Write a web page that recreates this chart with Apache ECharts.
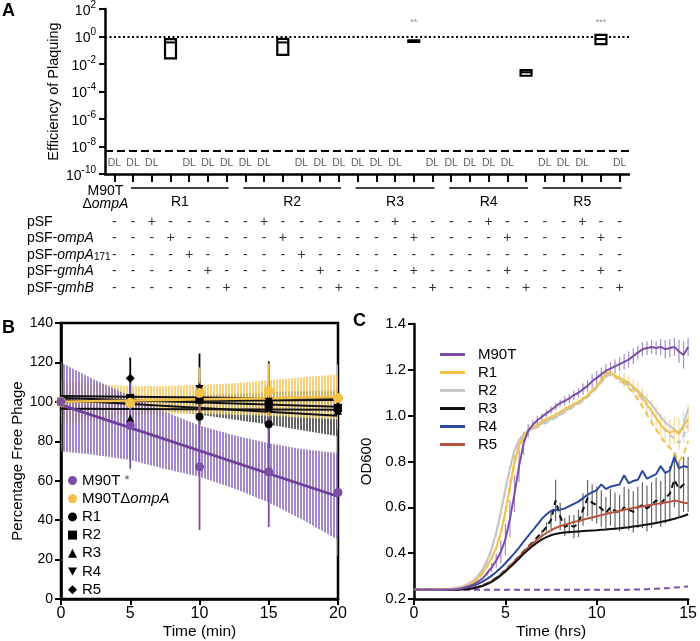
<!DOCTYPE html>
<html>
<head>
<meta charset="utf-8">
<script src="https://cdn.jsdelivr.net/npm/echarts@6/dist/echarts.min.js"></script>
<style>
  html, body { margin: 0; padding: 0; background: #fff; }
  #main { width: 700px; height: 641px; }
</style>
</head>
<body>
<div id="main"></div>
<script>
const FONT = 'Liberation Sans, Arial, sans-serif';

// ---------- A: efficiency of plaquing ----------
const COLS = ['M90TΔompA',
  'R1', 'R1 pSF', 'R1 ompA', 'R1 ompA171', 'R1 gmhA', 'R1 gmhB',
  'R2', 'R2 pSF', 'R2 ompA', 'R2 ompA171', 'R2 gmhA', 'R2 gmhB',
  'R3', 'R3 pSF', 'R3 ompA', 'R3 gmhA', 'R3 gmhB',
  'R4', 'R4 pSF', 'R4 ompA', 'R4 gmhA', 'R4 gmhB',
  'R5', 'R5 pSF', 'R5 ompA', 'R5 gmhA', 'R5 gmhB'];
// null = below detection limit (DL)
const EOP_MIN  = [null, null,null,0.026,null,null,null, null,null,0.046,null,null,null, null,null,null,0.45,null, null,null,null,null,0.0014, null,null,null,0.28,null];
const EOP_MEAN = [null, null,null,0.37,null,null,null,  null,null,0.37,null,null,null,  null,null,null,0.49,null, null,null,null,null,0.0025, null,null,null,0.65,null];
const EOP_MAX  = [null, null,null,0.65,null,null,null,  null,null,0.68,null,null,null,  null,null,null,0.52,null, null,null,null,null,0.0036, null,null,null,1.3,null];
const DETECTION_LIMIT = 5e-9;
const DL_LABEL_Y = 6e-10;
const STAR_COLS = [16, 26];
const STAR_TEXT = ['**', '***'];
const GROUP_NAMES = ['R1', 'R2', 'R3', 'R4', 'R5'];
const GROUP_FIRST = [1, 7, 13, 18, 23];
const GROUP_LAST = [6, 12, 17, 22, 27];

const PLASMIDS = ['pSF', 'pSF-ompA', 'pSF-ompA171', 'pSF-gmhA', 'pSF-gmhB'];
const SIGN_PSF      = '--+-----+------+----+----+---';
const SIGN_OMPA     = '---+-----+------+----+----+--';
const SIGN_OMPA171  = '----+-----+-----------------';
const SIGN_GMHA     = '-----+-----+----+----+----+-';
const SIGN_GMHB     = '------+-----+----+----+----+';

// ---------- B: phage adsorption ----------
const TIME_B = [0, 5, 10, 15, 20];
const M90T_B = [100, 88, 67, 64.5, 54];
const M90T_B_SD = [0, 22, 32, 28, 32];
const DOMPA_B = [100, 99.5, 104.5, 105.5, 102];
const DOMPA_B_SD = [0, 3, 13, 14, 17];
const R1_B = [100, 100, 92.5, 88.6, 96];
const R1_B_SD = [0, 3, 2, 3, 3];
const R2_B = [100, 102, 101, 98.5, 97];
const R2_B_SD = [0, 2, 2, 22, 38];
const R3_B = [100, 91.5, 107.5, 97, 95.5];
const R3_B_SD = [0, 2, 3, 3, 3];
const R4_B = [100, 100, 106.5, 100, 100];
const R4_B_SD = [0, 2, 18, 3, 3];
const R5_B = [100, 112, 101, 99, 95.5];
const R5_B_SD = [0, 10.5, 3, 3, 3];
// regression line values at t = 0 and t = 20
const FIT_T = [0, 20];
const FIT_M90T = [98.5, 52];
const FIT_DOMPA = [100, 102.5];
const FIT_R1 = [101, 93];
const FIT_R2 = [103, 101.5];
const FIT_R3 = [96.5, 96];
const FIT_R4 = [100, 101];
const FIT_R5 = [102, 97.5];
// confidence bands
const BAND_T = [0, 2.5, 5, 7.5, 10, 12.5, 15, 17.5, 20];
const M90T_BAND_HI = [120, 111, 103, 95, 88, 83, 79, 76, 74];
const M90T_BAND_LO = [75, 73, 70.5, 66, 62, 56, 49, 40, 30];
const DOMPA_BAND_HI = [111, 109, 108, 108, 108.5, 109.5, 111, 112.5, 114];
const DOMPA_BAND_LO = [89, 91, 93, 94, 94, 93.5, 93, 92, 91];
const R_BAND_HI = [104, 103.5, 103, 103, 103.5, 104, 105, 105.5, 106];
const R_BAND_LO = [96, 97, 97, 95.5, 93.5, 91, 88.5, 85.5, 82.5];

// ---------- C: growth curves ----------
const TIME_C = [0,0.25,0.5,0.75, 1,1.25,1.5,1.75, 2,2.25,2.5,2.75, 3,3.25,3.5,3.75, 4,4.25,4.5,4.75,
  5,5.25,5.5,5.75, 6,6.25,6.5,6.75, 7,7.25,7.5,7.75, 8,8.25,8.5,8.75, 9,9.25,9.5,9.75,
  10,10.25,10.5,10.75, 11,11.25,11.5,11.75, 12,12.25,12.5,12.75, 13,13.25,13.5,13.75, 14,14.25,14.5,14.75, 15];
const M90T_C = [0.240,0.240,0.240,0.240, 0.240,0.240,0.240,0.241, 0.242,0.243,0.245,0.250, 0.256,0.264,0.275,0.290,
  0.312,0.338,0.368,0.405, 0.460,0.550,0.660,0.780, 0.880,0.935,0.960,0.980, 0.995,1.010,1.025,1.040,
  1.055,1.065,1.075,1.090, 1.100,1.115,1.130,1.150, 1.165,1.180,1.195,1.205, 1.215,1.225,1.235,1.245,
  1.260,1.275,1.290,1.295, 1.300,1.295,1.300,1.290, 1.295,1.300,1.280,1.265, 1.300];
const M90T_C_ERR = [0,0,0,0, 0,0,0,0, 0,0,0,0, 0,0,0,0,
  0.01,0.02,0.03,0.05, 0.07,0.08,0.08,0.07, 0.05,0.03,0.02,0.02, 0.015,0.015,0.015,0.015,
  0.015,0.02,0.02,0.02, 0.02,0.025,0.025,0.03, 0.03,0.03,0.03,0.03, 0.03,0.03,0.035,0.035,
  0.035,0.03,0.03,0.03, 0.03,0.03,0.035,0.04, 0.04,0.04,0.05,0.06, 0.04];
const M90T_C_DASH = [0.240,0.240,0.240,0.240, 0.240,0.240,0.240,0.240, 0.240,0.240,0.240,0.240, 0.240,0.240,0.240,0.240,
  0.240,0.240,0.240,0.240, 0.240,0.240,0.240,0.240, 0.240,0.240,0.240,0.240, 0.240,0.240,0.240,0.240,
  0.240,0.240,0.240,0.240, 0.240,0.240,0.240,0.240, 0.240,0.240,0.240,0.240, 0.240,0.240,0.240,0.240,
  0.241,0.241,0.242,0.243, 0.244,0.245,0.246,0.247, 0.248,0.250,0.251,0.253, 0.255];
const R1_C = [0.240,0.240,0.240,0.240, 0.240,0.241,0.241,0.242, 0.243,0.245,0.248,0.253, 0.260,0.272,0.290,0.315,
  0.345,0.380,0.425,0.490, 0.580,0.690,0.800,0.870, 0.910,0.935,0.950,0.960, 0.975,0.985,0.995,1.005,
  1.015,1.030,1.040,1.050, 1.060,1.075,1.090,1.110, 1.130,1.155,1.185,1.190, 1.175,1.165,1.155,1.145,
  1.125,1.105,1.080,1.050, 1.020,0.990,0.960,0.940, 0.925,0.935,0.920,0.950, 0.985];
const R1_C_ERR = [0,0,0,0, 0,0,0,0, 0,0,0,0, 0,0,0,0,
  0,0,0,0, 0.02,0.03,0.03,0.02, 0.01,0.01,0.01,0.01, 0.01,0.01,0.01,0.01,
  0.01,0.01,0.01,0.01, 0.01,0.01,0.01,0.01, 0.015,0.015,0.02,0.02, 0.02,0.025,0.03,0.03,
  0.035,0.04,0.04,0.045, 0.05,0.05,0.05,0.055, 0.06,0.06,0.07,0.07, 0.06];
const R1_C_DASH = [0.240,0.240,0.240,0.240, 0.240,0.240,0.241,0.242, 0.243,0.245,0.247,0.252, 0.258,0.270,0.287,0.312,
  0.342,0.378,0.422,0.485, 0.575,0.685,0.795,0.865, 0.905,0.930,0.945,0.955, 0.970,0.980,0.990,1.000,
  1.010,1.020,1.030,1.045, 1.055,1.070,1.085,1.105, 1.125,1.150,1.180,1.185, 1.170,1.155,1.140,1.120,
  1.100,1.070,1.040,1.005, 0.970,0.940,0.910,0.880, 0.860,0.840,0.800,0.830, 0.890];
const R2_C = [0.240,0.240,0.240,0.240, 0.240,0.241,0.242,0.243, 0.245,0.248,0.252,0.258, 0.268,0.282,0.302,0.330,
  0.368,0.420,0.490,0.580, 0.680,0.770,0.850,0.895, 0.920,0.935,0.945,0.955, 0.965,0.975,0.985,0.995,
  1.005,1.020,1.030,1.045, 1.055,1.070,1.085,1.105, 1.125,1.150,1.175,1.185, 1.175,1.165,1.150,1.140,
  1.125,1.110,1.090,1.070, 1.050,1.020,0.995,0.970, 0.955,0.940,0.925,0.960, 1.030];
const R2_C_DASH = [0.240,0.240,0.240,0.240, 0.240,0.241,0.242,0.243, 0.245,0.247,0.251,0.257, 0.266,0.280,0.300,0.327,
  0.365,0.415,0.485,0.575, 0.675,0.765,0.845,0.890, 0.915,0.930,0.940,0.950, 0.960,0.970,0.980,0.990,
  1.000,1.015,1.025,1.040, 1.050,1.065,1.080,1.100, 1.120,1.145,1.170,1.180, 1.170,1.160,1.145,1.130,
  1.115,1.095,1.070,1.045, 1.020,0.990,0.960,0.935, 0.915,0.900,0.880,0.910, 0.960];
const R3_C = [0.240,0.240,0.240,0.240, 0.240,0.240,0.240,0.240, 0.240,0.241,0.241,0.242, 0.244,0.247,0.251,0.257,
  0.265,0.275,0.288,0.303, 0.320,0.338,0.357,0.377, 0.397,0.415,0.432,0.447, 0.460,0.470,0.478,0.484,
  0.488,0.490,0.492,0.493, 0.495,0.497,0.498,0.499, 0.500,0.502,0.503,0.505, 0.507,0.509,0.511,0.513,
  0.516,0.519,0.522,0.525, 0.528,0.532,0.536,0.540, 0.545,0.550,0.556,0.562, 0.570];
const R3_C_DASH = [0.240,0.240,0.240,0.240, 0.240,0.240,0.240,0.240, 0.240,0.241,0.242,0.243, 0.245,0.248,0.253,0.260,
  0.268,0.278,0.292,0.308, 0.326,0.345,0.365,0.386, 0.408,0.428,0.448,0.470, 0.490,0.515,0.545,0.630,
  0.560,0.515,0.525,0.515, 0.530,0.590,0.640,0.620, 0.610,0.595,0.575,0.600, 0.585,0.575,0.600,0.590,
  0.580,0.600,0.610,0.595, 0.610,0.630,0.615,0.640, 0.660,0.720,0.680,0.700, 0.700];
const R3_C_DASH_ERR = [0,0,0,0, 0,0,0,0, 0,0,0,0, 0,0,0,0,
  0,0,0,0, 0,0,0,0, 0,0,0,0, 0.01,0.02,0.04,0.09,
  0.06,0.04,0.04,0.05, 0.06,0.07,0.08,0.08, 0.08,0.08,0.07,0.08, 0.08,0.08,0.09,0.09,
  0.09,0.09,0.10,0.10, 0.10,0.10,0.10,0.11, 0.12,0.12,0.12,0.12, 0.12];
const R4_C = [0.240,0.240,0.240,0.240, 0.240,0.240,0.240,0.241, 0.242,0.243,0.245,0.248, 0.252,0.258,0.266,0.276,
  0.288,0.302,0.318,0.336, 0.356,0.378,0.400,0.424, 0.450,0.475,0.500,0.525, 0.550,0.570,0.585,0.588,
  0.590,0.595,0.605,0.615, 0.625,0.640,0.655,0.665, 0.675,0.700,0.680,0.690, 0.695,0.700,0.740,0.705,
  0.715,0.720,0.760,0.725, 0.735,0.745,0.780,0.750, 0.760,0.820,0.770,0.780, 0.775];
const R5_C = [0.240,0.240,0.240,0.240, 0.240,0.240,0.240,0.240, 0.240,0.241,0.241,0.242, 0.244,0.247,0.252,0.258,
  0.266,0.277,0.290,0.306, 0.324,0.344,0.364,0.385, 0.405,0.425,0.443,0.460, 0.475,0.488,0.500,0.510,
  0.518,0.524,0.530,0.536, 0.541,0.546,0.551,0.556, 0.561,0.566,0.571,0.576, 0.580,0.585,0.589,0.593,
  0.597,0.601,0.604,0.608, 0.611,0.614,0.618,0.621, 0.624,0.630,0.626,0.620, 0.618];

const PURPLE = '#7a4fa5', YELLOW = '#f3c24a', GRAY = '#c6c6c6', BLACK = '#111', BLUE = '#2d4a9c', RED = '#b5533f';

// vertical stripe fill like the hatched bands
function stripes(color) {
  const c = document.createElement('canvas');
  c.width = 3; c.height = 4;
  const g = c.getContext('2d');
  g.fillStyle = color;
  g.fillRect(0, 0, 2, 4);
  return { image: c, repeat: 'repeat' };
}

const chart = echarts.init(document.getElementById('main'));

const log10 = v => Math.log10(v);

// A series data
const boxData = [];
const dlData = [];
COLS.forEach((c, i) => {
  if (EOP_MEAN[i] == null) dlData.push([i, log10(DL_LABEL_Y)]);
  else boxData.push([i, log10(EOP_MIN[i]), log10(EOP_MEAN[i]), log10(EOP_MAX[i])]);
});
const starData = STAR_COLS.map((c, k) => ({ value: [c, 1], label: { formatter: STAR_TEXT[k] } }));

const signRows = [SIGN_PSF, SIGN_OMPA, SIGN_OMPA171, SIGN_GMHA, SIGN_GMHB];
const tableData = [];
signRows.forEach((row, j) => {
  for (let i = 0; i < COLS.length; i++) {
    tableData.push({ value: [i, j], label: { formatter: row[i] } });
  }
});

const PLASMID_RICH = {
  'pSF': 'pSF',
  'pSF-ompA': 'pSF-{i|ompA}',
  'pSF-ompA171': 'pSF-{i|ompA}{sm|171}',
  'pSF-gmhA': 'pSF-{i|gmhA}',
  'pSF-gmhB': 'pSF-{i|gmhB}'
};

// B helpers
function bandSeries(hi, lo, color, z) {
  return {
    type: 'custom', xAxisIndex: 2, yAxisIndex: 2, z: z, silent: true, clip: true,
    data: [[0, 0]],
    renderItem: function (params, api) {
      const pts = [];
      BAND_T.forEach((t, k) => pts.push(api.coord([t, hi[k]])));
      for (let k = BAND_T.length - 1; k >= 0; k--) pts.push(api.coord([BAND_T[k], lo[k]]));
      return { type: 'polygon', shape: { points: pts }, style: { fill: stripes(color) } };
    }
  };
}
function errSeries(xi, yi, xs, ys, es, color, width, z) {
  const d = [];
  xs.forEach((x, k) => { if (es[k] > 0) d.push([x, ys[k], es[k]]); });
  return {
    type: 'custom', xAxisIndex: xi, yAxisIndex: yi, z: z, silent: true, clip: true,
    encode: { x: 0, y: 1 },
    data: d,
    renderItem: function (params, api) {
      const a = api.coord([api.value(0), api.value(1) - api.value(2)]);
      const b = api.coord([api.value(0), api.value(1) + api.value(2)]);
      return { type: 'line', shape: { x1: a[0], y1: a[1], x2: b[0], y2: b[1] }, style: { stroke: color, lineWidth: width } };
    }
  };
}
function fitSeries(fit, color, width) {
  return {
    type: 'line', xAxisIndex: 2, yAxisIndex: 2, z: 3, silent: true, symbol: 'none',
    data: FIT_T.map((t, k) => [t, fit[k]]),
    lineStyle: { color: color, width: width }
  };
}
function pointSeries(name, ys, color, symbol, size) {
  return {
    name: name, type: 'scatter', xAxisIndex: 2, yAxisIndex: 2, z: 6,
    symbol: symbol, symbolSize: size,
    itemStyle: { color: color, opacity: 1 },
    data: TIME_B.map((t, k) => [t, ys[k]])
  };
}
function lineC(name, ys, color, dashed, z) {
  return {
    name: name, type: 'line', xAxisIndex: 3, yAxisIndex: 3, z: z, symbol: 'none', silent: true,
    data: TIME_C.map((t, k) => [t, ys[k]]),
    itemStyle: { color: color },
    lineStyle: { color: color, width: 2, type: dashed ? [6, 4] : 'solid' }
  };
}

const DOWN_TRI = 'path://M0,0L10,0L5,9Z';
const tickBlack = { show: true, length: 6, lineStyle: { color: '#000', width: 2 } };
const legTok = { fontSize: 15, fontFamily: FONT, color: '#000', lineHeight: 15 };

const option = {
  animation: false,
  backgroundColor: '#fff',
  textStyle: { fontFamily: FONT, color: '#000' },
  grid: [
    { left: 105, top: 8, width: 524, height: 166 },
    { left: 105, top: 213.5, width: 524, height: 82.5 },
    { left: 61, top: 323, width: 277, height: 277, show: true, borderColor: '#000', borderWidth: 2.5, backgroundColor: 'transparent' },
    { left: 414, top: 324, width: 277, height: 276 }
  ],
  xAxis: [
    { gridIndex: 0, type: 'category', data: COLS, boundaryGap: true,
      axisLine: { onZero: false, lineStyle: { color: '#000', width: 2.5 } },
      axisTick: { show: true, alignWithLabel: true, interval: 0, length: 8, lineStyle: { color: '#000', width: 2 } },
      axisLabel: { show: false }, splitLine: { show: false } },
    { gridIndex: 1, type: 'category', data: COLS, boundaryGap: true, show: false },
    { gridIndex: 2, type: 'value', min: 0, max: 20, interval: 5,
      axisLine: { show: true, onZero: false, lineStyle: { color: '#000', width: 2.5 } }, axisTick: tickBlack,
      splitLine: { show: false },
      axisLabel: { fontSize: 16, fontFamily: FONT, color: '#000', margin: 7 },
      name: 'Time (min)', nameLocation: 'middle', nameGap: 25, nameMoveOverlap: false,
      nameTextStyle: { fontSize: 15.5, fontFamily: FONT, color: '#000' } },
    { gridIndex: 3, type: 'value', min: 0, max: 15, interval: 5,
      axisLine: { show: true, onZero: false, lineStyle: { color: '#000', width: 2.5 } }, axisTick: tickBlack,
      splitLine: { show: false },
      axisLabel: { fontSize: 16, fontFamily: FONT, color: '#000', margin: 7 },
      name: 'Time (hrs)', nameLocation: 'middle', nameGap: 25, nameMoveOverlap: false,
      nameTextStyle: { fontSize: 15.5, fontFamily: FONT, color: '#000' } }
  ],
  yAxis: [
    { gridIndex: 0, type: 'value', min: -10, max: 2, interval: 2,
      axisLine: { show: true, onZero: false, lineStyle: { color: '#000', width: 2.5 } }, axisTick: tickBlack,
      splitLine: { show: false },
      axisLabel: { margin: 9, formatter: v => '{b|10}{s|' + v + '}',
        rich: { b: { fontSize: 14, fontFamily: FONT, color: '#000', verticalAlign: 'bottom', lineHeight: 18 },
                s: { fontSize: 10, fontFamily: FONT, color: '#000', verticalAlign: 'top', lineHeight: 12 } } },
      name: 'Efficiency of Plaquing', nameLocation: 'middle', nameGap: 44, nameMoveOverlap: false,
      nameTextStyle: { fontSize: 14.5, fontFamily: FONT, color: '#000' } },
    { gridIndex: 1, type: 'category', data: PLASMIDS, inverse: true,
      axisLine: { show: false }, axisTick: { show: false }, splitLine: { show: false },
      axisLabel: { interval: 0, align: 'left', margin: 78, fontSize: 14, fontFamily: FONT, color: '#000',
        formatter: v => PLASMID_RICH[v],
        rich: { i: { fontStyle: 'italic', fontSize: 14, fontFamily: FONT, color: '#000' },
                sm: { fontSize: 10, fontFamily: FONT, color: '#000', verticalAlign: 'bottom', lineHeight: 14 } } } },
    { gridIndex: 2, type: 'value', min: 0, max: 140, interval: 20,
      axisLine: { show: true, onZero: false, lineStyle: { color: '#000', width: 2.5 } }, axisTick: tickBlack,
      splitLine: { show: false },
      axisLabel: { fontSize: 14, fontFamily: FONT, color: '#000', margin: 8 },
      name: 'Percentage Free Phage', nameLocation: 'middle', nameGap: 36,
      nameTextStyle: { fontSize: 15, fontFamily: FONT, color: '#000' } },
    { gridIndex: 3, type: 'value', min: 0.2, max: 1.4, interval: 0.2,
      axisLine: { show: true, onZero: false, lineStyle: { color: '#000', width: 2.5 } }, axisTick: tickBlack,
      splitLine: { show: false },
      axisLabel: { fontSize: 15, fontFamily: FONT, color: '#000', margin: 8, formatter: v => v.toFixed(1) },
      name: 'OD600', nameLocation: 'middle', nameGap: 40,
      nameTextStyle: { fontSize: 15, fontFamily: FONT, color: '#000' } }
  ],
  legend: [
    { orient: 'vertical', left: 68, top: 473, itemWidth: 9, itemHeight: 9, itemGap: 3.2,
      selectedMode: false, padding: 0,
      textStyle: { fontSize: 15, fontFamily: FONT, color: '#000', lineHeight: 15,
        rich: { n: legTok,
                it: Object.assign({}, legTok, { fontStyle: 'italic' }),
                st: { fontSize: 13, fontFamily: FONT, color: '#555', lineHeight: 15 } } },
      formatter: function (n) {
        if (n === 'B-M90T') return '{n|M90T }{st|*}';
        if (n === 'B-dOmpA') return '{n|M90TΔ}{it|ompA}';
        return '{n|' + n.slice(2) + '}';
      },
      data: [
        { name: 'B-M90T', icon: 'circle' },
        { name: 'B-dOmpA', icon: 'circle' },
        { name: 'B-R1', icon: 'circle' },
        { name: 'B-R2', icon: 'rect' },
        { name: 'B-R3', icon: 'triangle' },
        { name: 'B-R4', icon: DOWN_TRI },
        { name: 'B-R5', icon: 'diamond' }
      ] },
    { orient: 'vertical', left: 435, top: 342, itemWidth: 25, itemHeight: 3, itemGap: 3,
      selectedMode: false, icon: 'rect',
      textStyle: { fontSize: 15, fontFamily: FONT, color: '#000', lineHeight: 15, padding: [0, 0, 0, 8] },
      formatter: n => n.slice(2),
      data: ['C-M90T', 'C-R1', 'C-R2', 'C-R3', 'C-R4', 'C-R5'] }
  ],
  series: [
    // ---- A ----
    { type: 'custom', xAxisIndex: 0, yAxisIndex: 0, z: 5, silent: true,
      encode: { x: 0, y: [1, 2, 3] },
      data: boxData,
      renderItem: function (params, api) {
        const x = api.value(0);
        const lo = api.coord([x, api.value(1)]);
        const mid = api.coord([x, api.value(2)]);
        const hi = api.coord([x, api.value(3)]);
        const w = 11;
        return { type: 'group', children: [
          { type: 'rect', shape: { x: lo[0] - w / 2, y: hi[1], width: w, height: Math.max(lo[1] - hi[1], 1.5) },
            style: { fill: '#fff', stroke: '#000', lineWidth: 2.2 } },
          { type: 'line', shape: { x1: lo[0] - w / 2, y1: mid[1], x2: lo[0] + w / 2, y2: mid[1] },
            style: { stroke: '#000', lineWidth: 2 } }
        ] };
      } },
    { type: 'scatter', xAxisIndex: 0, yAxisIndex: 0, silent: true, symbolSize: 1,
      itemStyle: { color: 'rgba(0,0,0,0)' },
      label: { show: true, position: 'inside', formatter: 'DL', fontSize: 10.5, fontFamily: FONT, color: '#333' },
      data: dlData,
      markLine: { silent: true, symbol: 'none', label: { show: false },
        data: [
          { yAxis: 0, lineStyle: { color: '#000', width: 2.2, type: [2, 2.5] } },
          { yAxis: log10(DETECTION_LIMIT), lineStyle: { color: '#000', width: 2, type: [8, 4] } }
        ] } },
    { type: 'scatter', xAxisIndex: 0, yAxisIndex: 0, silent: true, symbolSize: 1,
      itemStyle: { color: 'rgba(0,0,0,0)' },
      label: { show: true, position: 'inside', fontSize: 9, fontFamily: FONT, color: '#777' },
      data: starData },
    // table of plasmids
    { type: 'scatter', xAxisIndex: 1, yAxisIndex: 1, silent: true, symbolSize: 1,
      itemStyle: { color: 'rgba(0,0,0,0)' },
      label: { show: true, position: 'inside', fontSize: 14, fontFamily: FONT, color: '#000' },
      data: tableData },

    // ---- B ----
    bandSeries(R_BAND_HI, R_BAND_LO, 'rgba(50,50,50,0.75)', 1),
    bandSeries(DOMPA_BAND_HI, DOMPA_BAND_LO, 'rgba(246,200,90,0.8)', 1),
    bandSeries(M90T_BAND_HI, M90T_BAND_LO, 'rgba(140,108,186,0.8)', 2),
    fitSeries(FIT_R1, BLACK, 2), fitSeries(FIT_R2, BLACK, 2), fitSeries(FIT_R3, BLACK, 2),
    fitSeries(FIT_R4, BLACK, 2), fitSeries(FIT_R5, BLACK, 2),
    fitSeries(FIT_DOMPA, YELLOW, 2.5),
    fitSeries(FIT_M90T, '#6e3f9c', 2.8),
    errSeries(2, 2, TIME_B, R1_B, R1_B_SD, '#000', 1.8, 4),
    errSeries(2, 2, TIME_B, R2_B, R2_B_SD, '#000', 1.8, 4),
    errSeries(2, 2, TIME_B, R3_B, R3_B_SD, '#000', 1.8, 4),
    errSeries(2, 2, TIME_B, R4_B, R4_B_SD, '#000', 1.8, 4),
    errSeries(2, 2, TIME_B, R5_B, R5_B_SD, '#000', 1.8, 4),
    errSeries(2, 2, TIME_B, DOMPA_B, DOMPA_B_SD, YELLOW, 1.8, 4),
    errSeries(2, 2, TIME_B, M90T_B, M90T_B_SD, PURPLE, 1.8, 4),
    pointSeries('B-R1', R1_B, '#000', 'circle', 8),
    pointSeries('B-R2', R2_B, '#000', 'rect', 8),
    pointSeries('B-R3', R3_B, '#000', 'triangle', 8),
    pointSeries('B-R4', R4_B, '#000', DOWN_TRI, 8),
    pointSeries('B-R5', R5_B, '#000', 'diamond', 9),
    pointSeries('B-dOmpA', DOMPA_B, YELLOW, 'circle', 10),
    pointSeries('B-M90T', M90T_B, PURPLE, 'circle', 9),

    // ---- C ----
    errSeries(3, 3, TIME_C, R3_C_DASH, R3_C_DASH_ERR, '#666', 1.2, 2),
    errSeries(3, 3, TIME_C, R1_C, R1_C_ERR, '#f7d992', 1.2, 2),
    errSeries(3, 3, TIME_C, M90T_C, M90T_C_ERR, '#a68cc9', 1.2, 2),
    lineC('C-M90Td', M90T_C_DASH, PURPLE, true, 3),
    lineC('C-R2d', R2_C_DASH, GRAY, true, 3),
    lineC('C-R1d', R1_C_DASH, YELLOW, true, 3),
    lineC('C-R3d', R3_C_DASH, BLACK, true, 3),
    lineC('C-R5', R5_C, RED, false, 4),
    lineC('C-R3', R3_C, BLACK, false, 4),
    lineC('C-R4', R4_C, BLUE, false, 4),
    lineC('C-R2', R2_C, GRAY, false, 4),
    lineC('C-R1', R1_C, YELLOW, false, 4),
    lineC('C-M90T', M90T_C, PURPLE, false, 5)
  ]
};

chart.setOption(option);

// group brackets, strain label and panel letters
const graphics = [];
GROUP_NAMES.forEach((n, k) => {
  const x1 = chart.convertToPixel({ xAxisIndex: 0 }, GROUP_FIRST[k]);
  const x2 = chart.convertToPixel({ xAxisIndex: 0 }, GROUP_LAST[k]);
  graphics.push({ type: 'line', silent: true, shape: { x1: x1 - 2, y1: 188, x2: x2 + 2, y2: 188 },
    style: { stroke: '#000', lineWidth: 1.5 } });
  graphics.push({ type: 'text', silent: true, x: (x1 + x2) / 2, y: 202,
    style: { text: n, fontSize: 14, fontFamily: FONT, fill: '#000', align: 'center', verticalAlign: 'middle' } });
});
const x0 = chart.convertToPixel({ xAxisIndex: 0 }, 0);
graphics.push({ type: 'text', silent: true, x: x0 - 9, y: 198,
  style: { text: 'M90T\nΔ{i|ompA}', fontSize: 14, fontFamily: FONT, fill: '#000', align: 'center', verticalAlign: 'middle',
    lineHeight: 13, rich: { i: { fontStyle: 'italic', fontSize: 14, fontFamily: FONT, fill: '#000', lineHeight: 13 } } } });
[['A', 2, 2], ['B', 2, 319], ['C', 353, 312]].forEach(p => {
  graphics.push({ type: 'text', silent: true, x: p[1], y: p[2],
    style: { text: p[0], fontSize: 18, fontWeight: 'bold', fontFamily: FONT, fill: '#000' } });
});
chart.setOption({ graphic: graphics });
</script>
</body>
</html>
